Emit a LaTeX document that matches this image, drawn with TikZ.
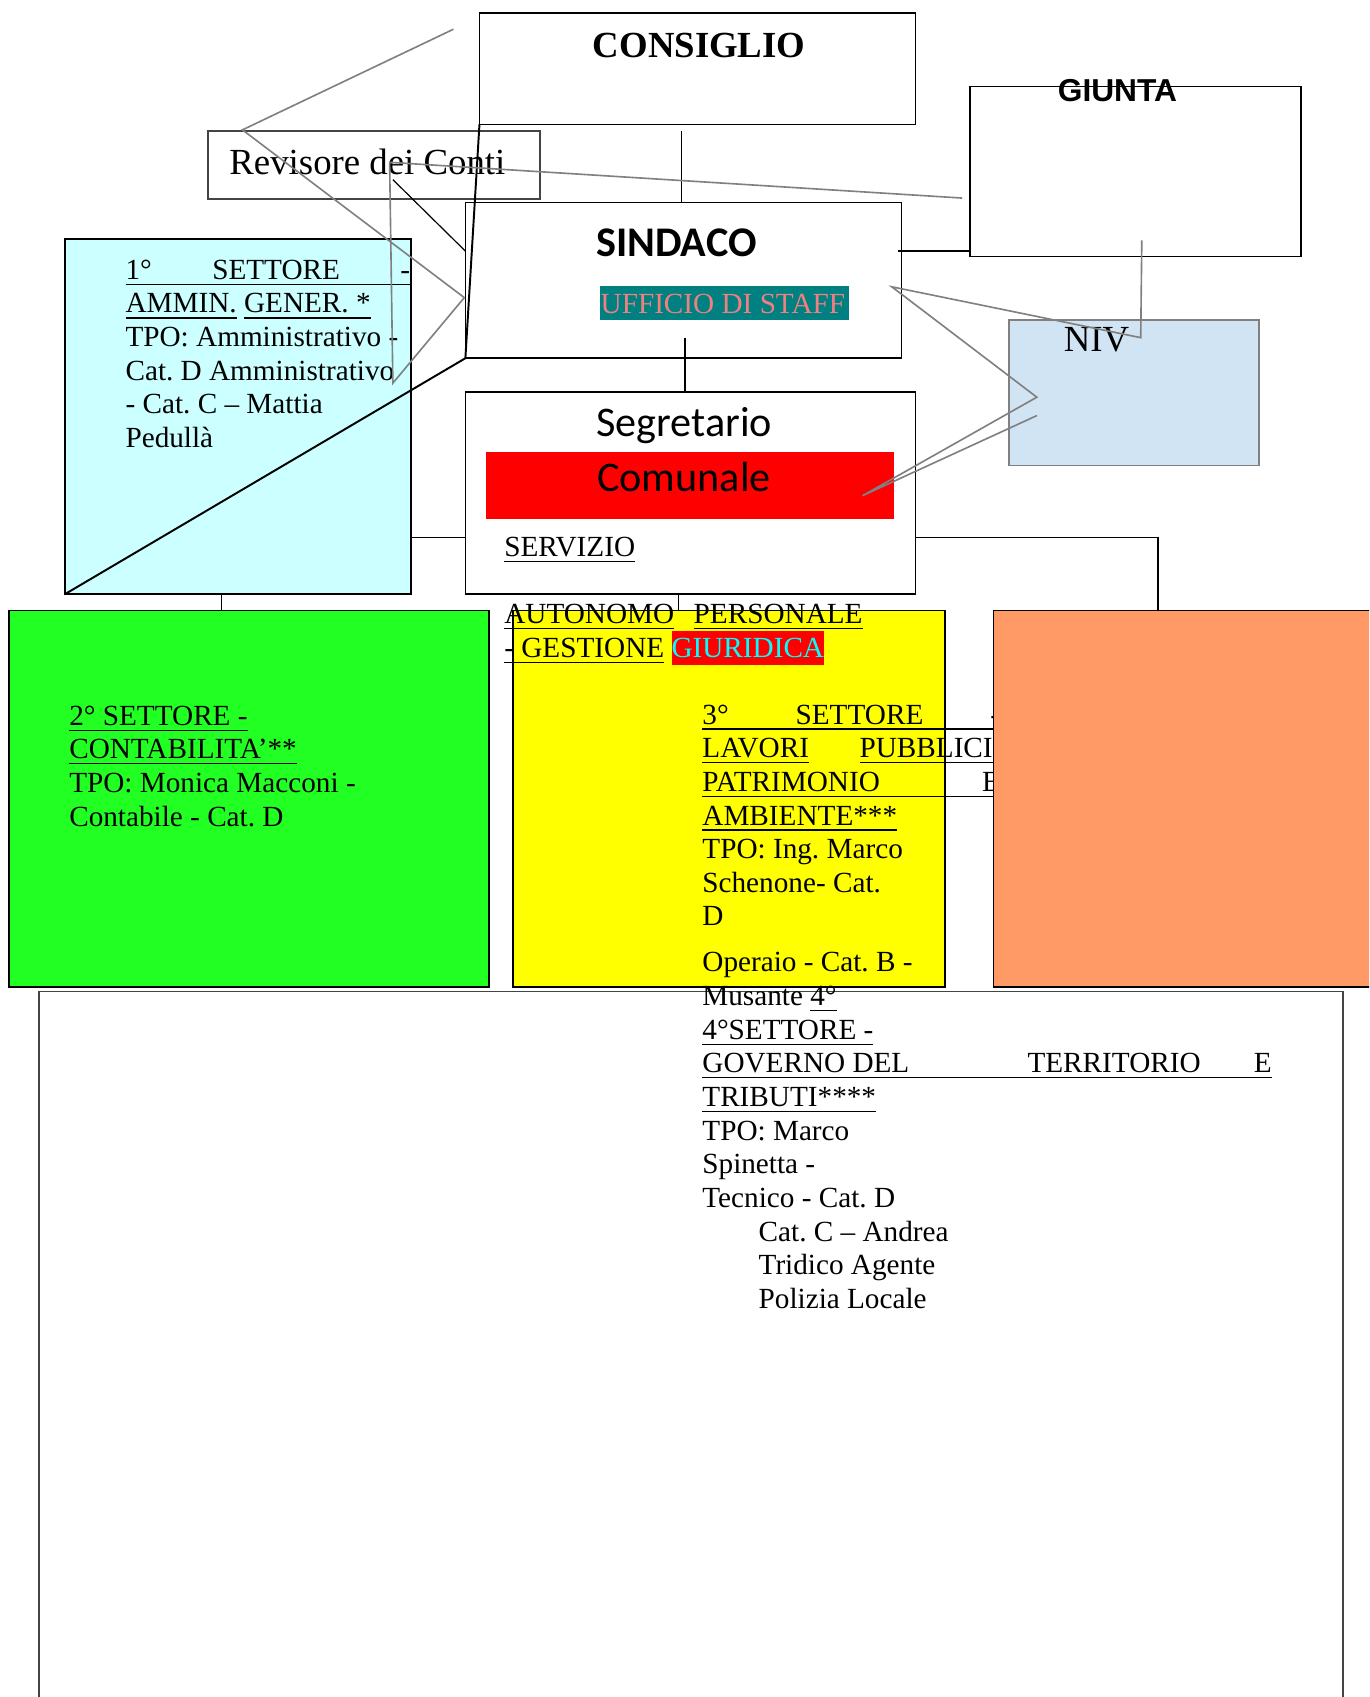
\documentclass[tikz,border=0pt]{standalone}
\usepackage{fontspec}
\setmainfont{Liberation Serif}
\newfontfamily\calibri{Carlito}
\newfontfamily\arialf{Liberation Sans}
\usetikzlibrary{calc}
\frenchspacing

\definecolor{cyanbox}{HTML}{CCFFFF}
\definecolor{greenbox}{HTML}{22FF22}
\definecolor{yellowbox}{HTML}{FFFF00}
\definecolor{orangebox}{HTML}{FF9966}
\definecolor{nivbox}{HTML}{D0E4F3}
\definecolor{staffbg}{HTML}{008080}
\definecolor{stafftx}{HTML}{F08080}
\definecolor{redbg}{HTML}{FF0000}
\definecolor{cyantx}{HTML}{00FFFF}
\definecolor{grayln}{HTML}{808080}
\definecolor{darkln}{HTML}{444444}

\newcommand\ulw[1]{\setbox0\hbox{#1}\rlap{\rule[-2.6pt]{\wd0}{0.55pt}}\box0\relax}
\newcommand\ulj[2]{\hbox to #1{\rlap{\rule[-2.6pt]{#1}{0.55pt}}#2\hfil}}
\newcommand\blk[1]{\vtop{\baselineskip=15.55pt\lineskiplimit=-100pt\lineskip=0pt #1}}

\tikzset{
  bx/.style={draw, inner sep=0pt, outer sep=0pt, anchor=north west, line width=0.8pt},
  tx/.style={inner sep=0pt, outer sep=0pt, anchor=base west, font=\fontsize{13.5}{15.55}\selectfont},
  cn/.style={line width=0.55pt},
  gl/.style={draw=grayln, line width=0.75pt},
}

\begin{document}
\begin{tikzpicture}[x=0.5pt,y=-0.5pt]
\useasboundingbox (0,0) rectangle (1265,1568);
\clip (0,0) rectangle (1265,1568);
\fill[white] (0,0) rectangle (1265,1568);

% bottom frame
\node[bx, draw=darkln, line width=0.6pt, minimum width=602.5pt, minimum height=342pt] (fondo) at (36,916) {};

% boxes
\node[bx, minimum width=201.5pt, minimum height=51.5pt] (consiglio) at (443,12) {};
\node[bx, minimum width=153pt, minimum height=78.5pt] (giunta) at (896,80) {};
\node[bx, draw=darkln, line width=0.7pt, minimum width=153.5pt, minimum height=31.5pt] (revisore) at (192,121) {};
\node[bx, minimum width=201.5pt, minimum height=72pt] (sindaco) at (430,187) {};
\node[bx, minimum width=208pt, minimum height=93.5pt] (segretario) at (430,362) {};
\node[bx, fill=cyanbox, minimum width=160pt, minimum height=164pt] (primo) at (60,221) {};
\node[bx, fill=greenbox, minimum width=222pt, minimum height=174pt] (secondo) at (8,564) {};
\node[bx, fill=yellowbox, minimum width=199.5pt, minimum height=174pt] (terzo) at (474,564) {};
\node[bx, draw=grayln, fill=nivbox, minimum width=115.5pt, minimum height=67pt] (niv) at (932,296) {};

\node[fill=staffbg, inner sep=0pt, outer sep=0pt, anchor=north west, minimum width=115pt, minimum height=16pt] (staffbg) at (554,264) {};
\node[fill=redbg, inner sep=0pt, outer sep=0pt, anchor=north west, minimum width=188.5pt, minimum height=31pt] (comunalebg) at (449,418) {};

% connectors
\coordinate (c1) at (630,121);
\draw[cn] (c1) -- (c1 |- sindaco.north);
\coordinate (c2) at (633,312);
\draw[cn] (c2) -- (c2 |- segretario.north);
\coordinate (c3) at (830,232);
\draw[cn] (c3) -- (c3 -| giunta.west);
\coordinate (c4) at (0,497);
\draw[cn] (c4 -| primo.east) -- (c4 -| segretario.west);
\coordinate (c5) at (1070,564);
\draw[cn] (c4 -| segretario.east) -| (c5);
\coordinate (c6) at (627,0);
\draw[cn] (c6 |- segretario.south) -- (c6 |- terzo.north);
\coordinate (c7) at (205,0);
\draw[cn] (c7 |- primo.south) -- (c7 |- secondo.north);

% texts
\node[tx, anchor=base, font=\bfseries\fontsize{17}{20}\selectfont] (tconsiglio) at (646,53) {CONSIGLIO};
\node[tx, anchor=base, font=\arialf\bfseries\fontsize{14.65}{17}\selectfont] (tgiunta) at (1032.5,94) {GIUNTA};
\node[tx, font=\fontsize{17}{20}\selectfont] (trev) at (212,161) {Revisore dei Conti};
\node[tx, anchor=base, font=\calibri\bfseries\fontsize{19.5}{23}\selectfont] (tsind) at (625,237) {SINDACO};
\node[tx, text=stafftx] (tstaff) at (555,290) {UFFICIO DI STAFF};
\node[tx, anchor=base, font=\calibri\fontsize{19.5}{23}\selectfont] (tseg) at (632,403) {Segretario};
\node[tx, anchor=base, font=\calibri\fontsize{19.5}{23}\selectfont] (tcom) at (632,454.5) {Comunale};
\node[tx, font=\fontsize{17}{20}\selectfont] (tniv) at (983,325) {NIV};

\node[tx] (tserv) at (466,514) {\blk{%
  \hbox{\ulw{SERVIZIO}}
  \hbox{}
  \hbox to 165.5pt{\ulw{AUTONOMO}\hfill\ulw{PERSONALE}}
  \hbox{\ulw{- GESTIONE} {\fboxsep=0pt\colorbox{redbg}{\rule[-3.5pt]{0pt}{15.5pt}\textcolor{cyantx}{GIURIDICA}}}}}};

\node[tx] (tprimo) at (116,258) {\blk{%
  \ulj{131.5pt}{1°\hfill SETTORE\hfill -}
  \hbox{\ulw{AMMIN.} \ulw{GENER. *}}
  \hbox{TPO: Amministrativo -}
  \hbox{Cat. D Amministrativo}
  \hbox{- Cat. C – Mattia}
  \hbox{Pedullà}}};

\node[tx] (tsecondo) at (64,670) {\blk{%
  \hbox{\ulw{2° SETTORE -}}
  \hbox{\ulw{CONTABILITA’**}}
  \hbox{TPO: Monica Macconi -}
  \hbox{Contabile - Cat. D}}};

\node[tx] (tterzo) at (649,669) {\blk{%
  \ulj{137.5pt}{3°\hfill SETTORE\hfill -}
  \hbox to 137.5pt{\ulw{LAVORI}\hfill\ulw{PUBBLICI,}}
  \ulj{137.5pt}{PATRIMONIO\hfill E}
  \hbox{\ulw{AMBIENTE***}}
  \hbox{TPO: Ing. Marco}
  \hbox{Schenone- Cat.}
  \hbox{D}}};

\node[tx] (tquarto) at (649,898) {\blk{%
  \hbox{Operaio - Cat. B -}
  \hbox{Musante \ulw{4°}}
  \hbox{\ulw{4°SETTORE -}}
  \ulj{263pt}{GOVERNO DEL\hfill\hbox to 112.8pt{TERRITORIO\hfill E}}
  \hbox{\ulw{TRIBUTI****}}
  \hbox{TPO: Marco}
  \hbox{Spinetta -}
  \hbox{Tecnico - Cat. D}
  \hbox{\hskip26pt Cat. C – Andrea}
  \hbox{\hskip26pt Tridico Agente}
  \hbox{\hskip26pt Polizia Locale}}};

% orange box on top of overflowing text
\node[bx, fill=orangebox, minimum width=181pt, minimum height=174pt] (quarto) at (918,564) {};

% stray lines
\draw[line width=0.9pt] (consiglio.south west) -- (sindaco.south west) -- (primo.south west);
\coordinate (t1) at (363,166);
\draw[cn] (t1) -- (sindaco.west |- c3);
\draw[gl] (419,27) -- (224,120) -- (429,275) -- (363,354) -- (360,150) -- (889,183);
\draw[gl] (1055,222) -- (1054,312) -- (824,265) -- (958,367) -- (797,458) -- (958,384);
\end{tikzpicture}
\end{document}
